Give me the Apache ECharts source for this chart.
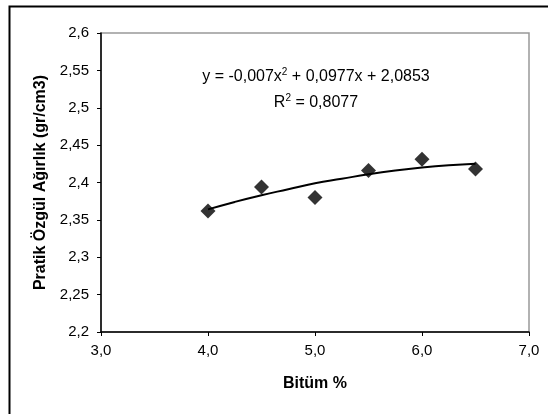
<!DOCTYPE html>
<html>
<head>
<meta charset="utf-8">
<script src="https://cdn.jsdelivr.net/npm/echarts@6/dist/echarts.min.js"></script>
<style>
  html, body { margin: 0; padding: 0; background: #fff; }
  #chart { width: 548px; height: 414px; }
</style>
</head>
<body>
<div id="chart"></div>
<script>
// ölçüm noktaları
const bitumen = [4.0, 4.5, 5.0, 5.5, 6.0, 6.5]
const density = [2.362, 2.394, 2.380, 2.416, 2.431, 2.418]

// eğilim çizgisi (2. derece polinom)
const trendX = [4.0, 4.25, 4.5, 4.75, 5.0, 5.25, 5.5, 5.75, 6.0, 6.25, 6.5]
const trendY = [2.364, 2.374, 2.383, 2.391, 2.399, 2.405, 2.411, 2.416, 2.420, 2.423, 2.425]

const equationText = 'y = -0,007x{sup|2} + 0,0977x + 2,0853'
const r2Text = 'R{sup|2} = 0,8077'

const font = 'Arial, "Liberation Sans", sans-serif'
const chart = echarts.init(document.getElementById('chart'))

const comma = (v, d) => {
  const s = d === undefined ? String(parseFloat(v.toFixed(2))) : v.toFixed(d)
  return s.replace('.', ',')
}

const supStyle = { fontSize: 10, fontFamily: font, verticalAlign: 'bottom', padding: [0, 0, 9, 0] }

const option = {
  animation: false,
  grid: {
    left: 101, right: 19, top: 33, bottom: 82,
    show: true, borderColor: '#999', borderWidth: 1.5
  },
  xAxis: {
    type: 'value', min: 3, max: 7, interval: 1,
    name: 'Bitüm %', nameLocation: 'middle', nameGap: 44,
    nameTextStyle: { fontFamily: font, fontWeight: 'bold', fontSize: 16, color: '#000' },
    axisLine: { lineStyle: { color: '#000', width: 1.5 } },
    axisTick: { inside: false, length: 4, lineStyle: { color: '#000' } },
    axisLabel: { margin: 11, fontFamily: font, fontSize: 15, color: '#000', formatter: v => comma(v, 1) },
    splitLine: { show: false }
  },
  yAxis: {
    type: 'value', min: 2.2, max: 2.6, interval: 0.05,
    name: 'Pratik Özgül Ağırlık (gr/cm3)', nameLocation: 'middle', nameGap: 48,
    nameTextStyle: { fontFamily: font, fontWeight: 'bold', fontSize: 16, color: '#000' },
    axisLine: { lineStyle: { color: '#000', width: 1.5 } },
    axisTick: { inside: false, length: 4, lineStyle: { color: '#000' } },
    axisLabel: { margin: 12, fontFamily: font, fontSize: 15, color: '#000', formatter: v => comma(v) },
    splitLine: { show: false }
  },
  series: [
    {
      type: 'line',
      data: trendX.map((x, i) => [x, trendY[i]]),
      smooth: true,
      showSymbol: false,
      lineStyle: { color: '#000', width: 2 },
      z: 2
    },
    {
      type: 'scatter',
      data: bitumen.map((x, i) => [x, density[i]]),
      symbol: 'diamond',
      symbolSize: [15, 15],
      itemStyle: { color: '#000' },
      z: 3
    }
  ],
  graphic: [
    // dış çerçeve: sadece üst ve sol kenar görünüyor
    {
      type: 'rect', left: 7, top: 4,
      shape: { width: 700, height: 600 },
      style: { fill: null, stroke: '#000', lineWidth: 2 },
      silent: true
    },
    {
      type: 'text', x: 316, y: 77,
      style: {
        text: equationText, align: 'center', verticalAlign: 'middle',
        fontFamily: font, fontSize: 16, fill: '#000',
        rich: { sup: supStyle }
      }
    },
    {
      type: 'text', x: 316, y: 103,
      style: {
        text: r2Text, align: 'center', verticalAlign: 'middle',
        fontFamily: font, fontSize: 16, fill: '#000',
        rich: { sup: supStyle }
      }
    }
  ]
}

chart.setOption(option)
</script>
</body>
</html>
